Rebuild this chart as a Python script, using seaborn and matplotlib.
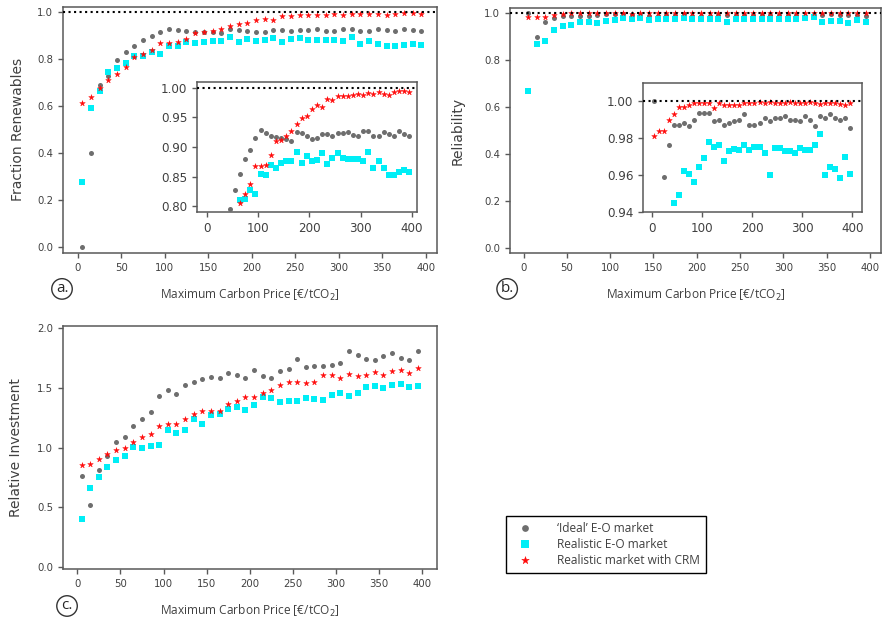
import matplotlib
matplotlib.use("Agg")
import matplotlib.pyplot as plt
import seaborn as sns

# Maximum carbon price of each simulation run [EUR/tCO2]
price = [5, 15, 25, 35, 45, 55, 65, 75, 85, 95,
         105, 115, 125, 135, 145, 155, 165, 175, 185, 195,
         205, 215, 225, 235, 245, 255, 265, 275, 285, 295,
         305, 315, 325, 335, 345, 355, 365, 375, 385, 395]

# (a) share of renewables in generation
renew_ideal = [0.000, 0.400, 0.688, 0.728, 0.795, 0.827, 0.855, 0.880, 0.895, 0.915,
               0.928, 0.923, 0.919, 0.916, 0.915, 0.913, 0.910, 0.925, 0.924, 0.918,
               0.913, 0.915, 0.921, 0.922, 0.919, 0.923, 0.924, 0.926, 0.920, 0.918,
               0.927, 0.927, 0.919, 0.919, 0.925, 0.921, 0.919, 0.927, 0.921, 0.919]
renew_real = [0.275, 0.589, 0.661, 0.745, 0.760, 0.780, 0.810, 0.812, 0.828, 0.820,
              0.855, 0.853, 0.870, 0.865, 0.872, 0.877, 0.876, 0.891, 0.873, 0.885,
              0.876, 0.878, 0.889, 0.871, 0.882, 0.890, 0.881, 0.879, 0.879, 0.879,
              0.876, 0.892, 0.864, 0.877, 0.864, 0.853, 0.853, 0.857, 0.861, 0.858]
renew_crm = [0.611, 0.637, 0.675, 0.709, 0.736, 0.767, 0.806, 0.821, 0.837, 0.867,
             0.868, 0.870, 0.886, 0.910, 0.912, 0.919, 0.927, 0.938, 0.948, 0.952,
             0.964, 0.970, 0.967, 0.981, 0.980, 0.986, 0.986, 0.986, 0.988, 0.989,
             0.988, 0.991, 0.989, 0.992, 0.989, 0.988, 0.992, 0.994, 0.994, 0.992]

# (b) supply reliability
rel_ideal = [1.000, 0.897, 0.959, 0.976, 0.987, 0.987, 0.988, 0.9865, 0.990, 0.9937,
             0.9937, 0.9934, 0.9894, 0.990, 0.987, 0.988, 0.989, 0.990, 0.993, 0.987,
             0.987, 0.988, 0.991, 0.989, 0.991, 0.991, 0.992, 0.990, 0.990, 0.989,
             0.992, 0.990, 0.9865, 0.992, 0.991, 0.993, 0.991, 0.990, 0.991, 0.9856]
rel_real = [0.669, 0.866, 0.881, 0.926, 0.945, 0.949, 0.962, 0.9605, 0.9565, 0.9645,
            0.969, 0.978, 0.975, 0.976, 0.9675, 0.973, 0.974, 0.9735, 0.9765, 0.9735,
            0.975, 0.975, 0.972, 0.960, 0.9745, 0.9745, 0.973, 0.973, 0.972, 0.9745,
            0.9735, 0.9735, 0.976, 0.982, 0.960, 0.9645, 0.963, 0.9585, 0.9695, 0.9605]
rel_crm = [0.981, 0.984, 0.984, 0.990, 0.993, 0.997, 0.997, 0.998, 0.999, 0.999,
           0.999, 0.999, 0.996, 0.999, 0.998, 0.998, 0.998, 0.998, 0.999, 0.999,
           0.999, 0.9995, 0.999, 0.9995, 0.999, 0.999, 0.999, 0.9995, 0.999, 0.999,
           0.999, 0.9995, 0.999, 0.9985, 0.999, 0.999, 0.999, 0.9985, 0.998, 0.999]

# (c) investment relative to the reference case
inv_ideal = [0.760, 0.522, 0.816, 0.927, 1.050, 1.087, 1.180, 1.240, 1.300, 1.436,
             1.486, 1.447, 1.528, 1.550, 1.575, 1.592, 1.581, 1.626, 1.612, 1.584,
             1.651, 1.600, 1.584, 1.645, 1.659, 1.740, 1.680, 1.687, 1.687, 1.693,
             1.710, 1.813, 1.777, 1.743, 1.737, 1.765, 1.793, 1.749, 1.735, 1.810]
inv_real = [0.405, 0.665, 0.751, 0.841, 0.894, 0.927, 1.008, 0.994, 1.017, 1.022,
            1.151, 1.123, 1.148, 1.240, 1.196, 1.277, 1.285, 1.327, 1.338, 1.318,
            1.358, 1.425, 1.419, 1.383, 1.394, 1.391, 1.419, 1.408, 1.397, 1.439,
            1.458, 1.430, 1.458, 1.508, 1.514, 1.497, 1.528, 1.536, 1.506, 1.520]
inv_crm = [0.858, 0.866, 0.905, 0.950, 0.983, 0.994, 1.050, 1.092, 1.117, 1.184,
           1.200, 1.196, 1.243, 1.285, 1.307, 1.304, 1.310, 1.366, 1.388, 1.425,
           1.425, 1.461, 1.480, 1.522, 1.553, 1.547, 1.542, 1.550, 1.612, 1.606,
           1.587, 1.617, 1.600, 1.612, 1.637, 1.612, 1.640, 1.648, 1.626, 1.665]

series_names = ["\u2018Ideal\u2019 E-O market", "Realistic E-O market",
                "Realistic market with CRM"]

GRAY = "#6e6e6e"
CYAN = "#00eef6"
RED = "#ff0a0a"
EDGE = "0.35"

sns.set_style("ticks", {"axes.edgecolor": EDGE, "xtick.color": EDGE,
                        "ytick.color": EDGE, "text.color": "0.25",
                        "axes.labelcolor": "0.25"})
plt.rcParams["font.family"] = ["DejaVu Sans"]
plt.rcParams["axes.linewidth"] = 1.1

LABEL_FONT = ["Open Sans", "DejaVu Sans"]

fig = plt.figure(figsize=(8.82, 6.2), dpi=100)


def scatter_three(ax, ideal, real, crm, with_labels=False):
    sns.scatterplot(x=price, y=ideal, ax=ax, color=GRAY, marker="o", s=13,
                    linewidth=0, zorder=3,
                    label=series_names[0] if with_labels else None)
    sns.scatterplot(x=price, y=real, ax=ax, color=CYAN, marker="s", s=17,
                    linewidth=0, zorder=3,
                    label=series_names[1] if with_labels else None)
    sns.scatterplot(x=price, y=crm, ax=ax, color=RED, marker="*", s=18,
                    linewidth=0.3, edgecolor=RED, zorder=4,
                    label=series_names[2] if with_labels else None)
    if ax.get_legend() is not None:
        ax.get_legend().remove()


def style_main(ax, tick_size=7.3):
    ax.tick_params(labelsize=tick_size, length=3.5, width=1.0, labelcolor="0.25")
    ax.set_xticks([0, 50, 100, 150, 200, 250, 300, 350, 400])


def style_inset(ax):
    ax.tick_params(labelsize=8.6, length=3.5, width=1.0, labelcolor="0.25")
    ax.set_xticks([0, 100, 200, 300, 400])


def xlabel(ax):
    ax.set_xlabel("Maximum Carbon Price [\u20ac/tCO$_2$]", family=LABEL_FONT,
                  fontsize=8.6, labelpad=10, color="0.25")


# ---- (a) Fraction renewables ----
ax_a = fig.add_axes([0.0714, 0.592, 0.424, 0.397])
scatter_three(ax_a, renew_ideal, renew_real, renew_crm)
ax_a.axhline(1.0, color="black", ls=":", lw=1.5, zorder=5)
ax_a.set_xlim(-17, 413)
ax_a.set_ylim(-0.026, 1.021)
ax_a.set_yticks([0.0, 0.2, 0.4, 0.6, 0.8, 1.0])
style_main(ax_a)
ax_a.set_ylabel("Fraction Renewables", fontsize=10, labelpad=9)
xlabel(ax_a)

ax_ai = fig.add_axes([0.2234, 0.658, 0.2494, 0.2097])
scatter_three(ax_ai, renew_ideal, renew_real, renew_crm)
ax_ai.axhline(1.0, color="black", ls=":", lw=1.5, zorder=5)
ax_ai.set_xlim(-19, 410)
ax_ai.set_ylim(0.79, 1.0096)
ax_ai.set_yticks([0.80, 0.85, 0.90, 0.95, 1.00])
ax_ai.set_yticklabels(["0.80", "0.85", "0.90", "0.95", "1.00"])
style_inset(ax_ai)

# ---- (b) Reliability ----
ax_b = fig.add_axes([0.578, 0.592, 0.421, 0.395])
scatter_three(ax_b, rel_ideal, rel_real, rel_crm)
ax_b.axhline(1.0, color="black", ls=":", lw=1.5, zorder=5)
ax_b.set_xlim(-16, 413)
ax_b.set_ylim(-0.02, 1.02)
ax_b.set_yticks([0.0, 0.2, 0.4, 0.6, 0.8, 1.0])
style_main(ax_b)
ax_b.set_ylabel("Reliability", fontsize=10, labelpad=14)
xlabel(ax_b)

ax_bi = fig.add_axes([0.729, 0.658, 0.2483, 0.208])
scatter_three(ax_bi, rel_ideal, rel_real, rel_crm)
ax_bi.axhline(1.0, color="black", ls=":", lw=1.5, zorder=5)
ax_bi.set_xlim(-17, 419)
ax_bi.set_ylim(0.94, 1.0097)
ax_bi.set_yticks([0.94, 0.96, 0.98, 1.00])
ax_bi.set_yticklabels(["0.94", "0.96", "0.98", "1.00"])
style_inset(ax_bi)

# ---- (c) Relative investment ----
ax_c = fig.add_axes([0.0714, 0.0823, 0.424, 0.392])
scatter_three(ax_c, inv_ideal, inv_real, inv_crm, with_labels=True)
ax_c.set_xlim(-16.6, 417)
ax_c.set_ylim(-0.015, 2.02)
ax_c.set_yticks([0.0, 0.5, 1.0, 1.5, 2.0])
style_main(ax_c)
ax_c.set_ylabel("Relative Investment", fontsize=10, labelpad=10)
xlabel(ax_c)

handles, labels = ax_c.get_legend_handles_labels()
leg = fig.legend(handles, labels, loc="upper left",
                 bbox_to_anchor=(0.567, 0.178), frameon=True, fancybox=False,
                 edgecolor="black", framealpha=1, markerscale=1.35,
                 prop={"family": LABEL_FONT, "size": 8.6},
                 handletextpad=1.6, labelspacing=0.25, borderpad=0.5,
                 handlelength=2.2)
leg.get_frame().set_linewidth(1.0)

# circled panel letters
for letter, (x, y) in {"a.": (0.0703, 0.534), "b.": (0.575, 0.534),
                       "c.": (0.076, 0.0226)}.items():
    fig.text(x, y, letter, ha="center", va="center", fontsize=11,
             family=LABEL_FONT, color="0.15",
             bbox=dict(boxstyle="circle,pad=0.18", fc="white", ec="0.2",
                       lw=1.0))

fig.savefig("out.png", dpi=100)
